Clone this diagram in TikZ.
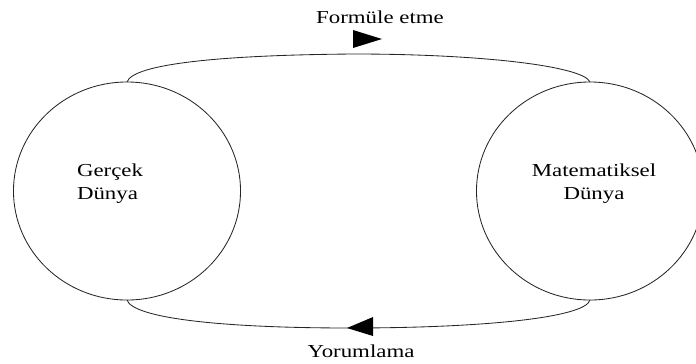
\documentclass[tikz,border=0pt]{standalone}
\usepackage{fontspec}
\setmainfont{Liberation Serif}[FakeStretch=1.25]
\usepackage{tikz}
\usetikzlibrary{shapes.geometric}

\tikzset{
    dunya/.style={draw=black!85, line width=0.6pt, ellipse, inner sep=0pt, outer sep=0pt,
        minimum width=5.675cm, minimum height=5.45cm},
    etiket/.style={inner sep=0pt, font=\fontsize{13}{16.5}\selectfont},
    yay/.style={draw=black!85, line width=0.6pt}
}

\begin{document}
\begin{tikzpicture}[x=0.025cm, y=-0.025cm]
        % page 696 x 363, coordinates in pixels, y pointing down
        \useasboundingbox (0,0) rectangle (696,363);
        \clip (0,0) rectangle (696,363);

        \node[dunya] (gercek) at (127,191) {};
        \node[dunya] (matdunya) at (590,191) {};

        \node[etiket, align=left] (gercekyazi) at (110,184) {Gerçek\\Dünya};
        \node[etiket, align=center] (matyazi) at (594,184) {Matematiksel\\Dünya};

        % formulating: upper arc
        \draw[yay] (gercek.north) .. controls (133,64) and (220,55) .. (354,54)
            .. controls (480,54) and (583,66) .. (matdunya.north);
        \fill (353,30) -- (382,39) -- (353,48) -- cycle;
        \node[etiket, anchor=base] (formul) at (380,23) {Formüle etme};

        % interpreting: lower arc
        \draw[yay] (gercek.south) .. controls (133,318) and (220,328) .. (350,328)
            .. controls (480,328) and (585,318) .. (matdunya.south);
        \fill (347,328) -- (373,317) -- (373,336) -- cycle;
        \node[etiket, anchor=base] (yorum) at (361,357) {Yorumlama};

    \end{tikzpicture}
\end{document}
